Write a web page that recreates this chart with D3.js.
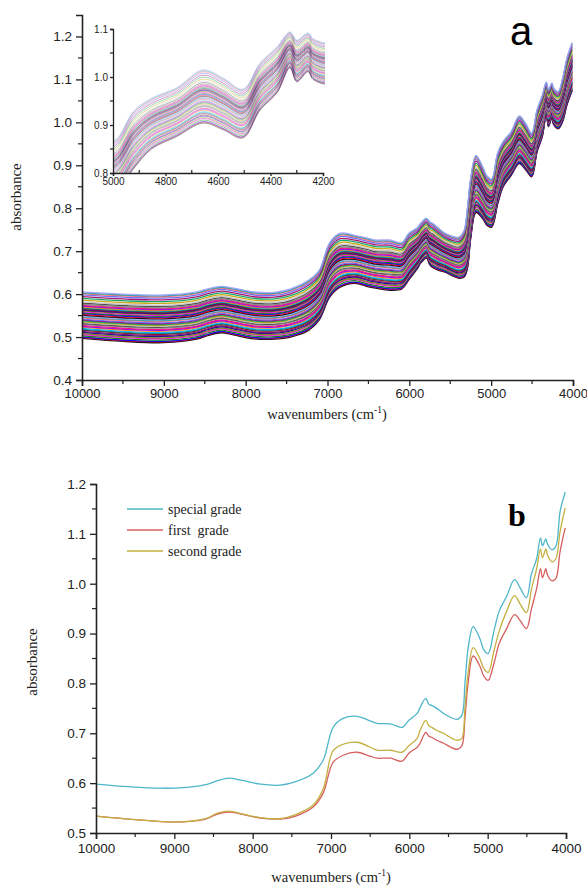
<!DOCTYPE html>
<html><head><meta charset="utf-8">
<script src="https://cdn.jsdelivr.net/npm/d3@7"></script>
<style>body{margin:0;background:#fff}</style></head>
<body>
<svg id="c" width="587" height="887"></svg>
<script>
// ---------- DATA ----------
const wavenumbers = [10000,9500,9000,8600,8450,8300,8150,7900,7650,7450,7228,7100,6973,6845,6667,6500,6411,6240,6092,6006,5900,5862,5790,5750,5715,5650,5565,5394,5330,5290,5250,5185,5100,5050,4994,4920,4853,4757,4657,4580,4505,4440,4375,4326,4300,4257,4238,4180,4130,4074,4010];
// panel a: envelope of the bundle of sample spectra (top and bottom curves)
const upperA = [0.605,0.600,0.598,0.605,0.613,0.618,0.614,0.605,0.604,0.612,0.633,0.656,0.720,0.742,0.737,0.730,0.726,0.726,0.720,0.742,0.755,0.765,0.777,0.768,0.765,0.755,0.742,0.733,0.749,0.800,0.870,0.923,0.895,0.875,0.868,0.930,0.956,0.978,1.015,0.998,0.975,1.029,1.063,1.094,1.077,1.092,1.080,1.072,1.100,1.150,1.186];
const lowerA = [0.497,0.490,0.487,0.495,0.504,0.510,0.505,0.496,0.495,0.500,0.516,0.540,0.593,0.616,0.625,0.617,0.614,0.609,0.612,0.633,0.660,0.672,0.684,0.668,0.662,0.656,0.651,0.637,0.640,0.660,0.730,0.790,0.775,0.760,0.756,0.810,0.850,0.876,0.904,0.890,0.873,0.931,0.967,1.019,0.990,1.011,0.995,0.985,1.000,1.040,1.074];
// absorbance of each sample at 10000 cm-1 (its place in the bundle)
const sampleLevels = [0.497,0.499,0.500,0.503,0.506,0.508,0.511,0.513,0.516,0.518,0.520,0.523,0.525,0.527,0.530,0.532,0.534,0.536,0.538,0.540,0.542,0.545,0.547,0.549,0.551,0.553,0.555,0.557,0.559,0.561,0.563,0.564,0.566,0.567,0.569,0.570,0.572,0.574,0.576,0.579,0.582,0.586,0.590,0.594,0.598,0.601,0.603,0.605];
const sampleColors = ["#000000","#ff0000","#0000ff","#008000","#ff00ff","#808000","#000080","#800080","#800000","#008080","#00b0ff","#ff8000","#8000ff","#ff0080","#808080","#404040","#c0c0c0","#c8a000","#00a060","#a00060","#6060ff","#ff6060","#20a0a0","#a0a0ff"];
const specialGrade = [0.598,0.592,0.590,0.597,0.605,0.610,0.606,0.598,0.596,0.603,0.620,0.646,0.712,0.730,0.734,0.725,0.720,0.719,0.712,0.726,0.740,0.752,0.770,0.758,0.756,0.750,0.740,0.728,0.736,0.800,0.870,0.914,0.890,0.868,0.860,0.905,0.945,0.975,1.008,0.990,0.972,1.020,1.050,1.092,1.076,1.090,1.080,1.068,1.075,1.146,1.184];
const firstGrade   = [0.534,0.527,0.522,0.528,0.538,0.542,0.538,0.530,0.528,0.534,0.552,0.580,0.642,0.656,0.662,0.654,0.650,0.650,0.644,0.660,0.672,0.680,0.702,0.694,0.692,0.686,0.680,0.668,0.675,0.730,0.800,0.855,0.835,0.815,0.806,0.840,0.880,0.910,0.938,0.925,0.910,0.950,0.990,1.030,1.012,1.030,1.018,1.006,1.010,1.066,1.112];
const secondGrade  = [0.534,0.527,0.522,0.529,0.540,0.544,0.539,0.531,0.529,0.537,0.556,0.588,0.665,0.678,0.682,0.672,0.666,0.666,0.662,0.675,0.690,0.706,0.726,0.715,0.712,0.706,0.700,0.686,0.690,0.750,0.820,0.872,0.850,0.830,0.822,0.865,0.905,0.945,0.976,0.958,0.942,0.990,1.030,1.070,1.052,1.070,1.058,1.044,1.050,1.106,1.152];
const gradeNames  = ["special grade","first  grade","second grade"];
const gradeColors = ["#4db6c8","#d65f5f","#c4b040"];
const xTicks  = [10000,9000,8000,7000,6000,5000,4000];
const yTicksA = [0.4,0.5,0.6,0.7,0.8,0.9,1.0,1.1,1.2];
const yTicksB = [0.5,0.6,0.7,0.8,0.9,1.0,1.1,1.2];
const insetXTicks = [5000,4800,4600,4400,4200];
const insetYTicks = [0.8,0.9,1.0,1.1];

// ---------- DRAW ----------
const svg = d3.select("#c");
const axisCol = "#222";
const sans = "Liberation Sans, Arial, sans-serif";
const serif = "Liberation Serif, Times New Roman, serif";

const samples = sampleLevels.map(lv => {
  const t = (lv - lowerA[0]) / (upperA[0] - lowerA[0]);
  return wavenumbers.map((w, k) => ({w, v: lowerA[k] + t * (upperA[k] - lowerA[k])}));
});

function styleAxis(g, fs){
  g.selectAll("path.domain").attr("stroke", axisCol).attr("stroke-width", 1.6);
  g.selectAll(".tick line").attr("stroke", axisCol).attr("stroke-width", 1.3);
  g.selectAll(".tick text").attr("font-family", sans).attr("font-size", fs).attr("fill", "#222");
}
function minor(g, scale, vals, orient, len){
  vals.forEach(v => {
    const p = scale(v);
    if (orient === "x") g.append("line").attr("x1", p).attr("x2", p).attr("y1", 0).attr("y2", len).attr("stroke", axisCol).attr("stroke-width", 1.2);
    else g.append("line").attr("y1", p).attr("y2", p).attr("x1", 0).attr("x2", -len).attr("stroke", axisCol).attr("stroke-width", 1.2);
  });
}
function xTitle(x, y){
  const t = svg.append("text").attr("x", x).attr("y", y).attr("text-anchor", "middle")
    .attr("font-family", serif).attr("font-size", 14.5).attr("fill", "#222");
  t.append("tspan").text("wavenumbers (cm");
  t.append("tspan").attr("dy", -6).attr("font-size", 9.5).text("-1");
  t.append("tspan").attr("dy", 6).text(")");
}
function yTitle(x, y){
  svg.append("text").attr("transform", `translate(${x},${y}) rotate(-90)`).attr("text-anchor", "middle")
    .attr("font-family", serif).attr("font-size", 15).attr("fill", "#222").text("absorbance");
}

// ===== Panel a =====
const xa = d3.scaleLinear().domain([10000, 4000]).range([82, 573]);
const ya = d3.scaleLinear().domain([0.4, 1.25]).range([380, 15]);
const lineA = d3.line().x(d => xa(d.w)).y(d => ya(d.v)).curve(d3.curveCatmullRom.alpha(0.5));
const gA = svg.append("g");
samples.forEach((s, i) => {
  gA.append("path").attr("d", lineA(s)).attr("fill", "none")
    .attr("stroke", sampleColors[i % sampleColors.length]).attr("stroke-width", 1.3).attr("stroke-opacity", 0.9);
});
const axA = svg.append("g").attr("transform", "translate(0,380)")
  .call(d3.axisBottom(xa).tickValues(xTicks).tickFormat(d3.format("d")).tickSize(6).tickPadding(3));
styleAxis(axA, 13);
minor(axA, xa, [9500,8500,7500,6500,5500,4500], "x", 4);
const ayA = svg.append("g").attr("transform", "translate(82,0)")
  .call(d3.axisLeft(ya).tickValues(yTicksA).tickFormat(d3.format(".1f")).tickSize(6).tickPadding(4));
styleAxis(ayA, 13.5);
minor(ayA, ya, [0.45,0.55,0.65,0.75,0.85,0.95,1.05,1.15], "y", 4);
xTitle(327, 419);
yTitle(21, 197);
svg.append("text").attr("x", 521).attr("y", 45).attr("text-anchor", "middle")
  .attr("font-family", sans).attr("font-size", 40).attr("fill", "#000").text("a");

// inset
const xi = d3.scaleLinear().domain([5000, 4200]).range([113, 323]);
const yi = d3.scaleLinear().domain([0.8, 1.1]).range([173, 29]);
svg.append("clipPath").attr("id", "clipI").append("rect").attr("x", 113).attr("y", 22).attr("width", 212).attr("height", 151);
const lineI = d3.line().x(d => xi(d.w)).y(d => yi(d.v)).curve(d3.curveCatmullRom.alpha(0.5));
const gI = svg.append("g").attr("clip-path", "url(#clipI)");
samples.forEach((s, i) => {
  gI.append("path").attr("d", lineI(s.filter(d => d.w <= 5100 && d.w >= 4130))).attr("fill", "none")
    .attr("stroke", sampleColors[i % sampleColors.length]).attr("stroke-width", 0.9).attr("stroke-opacity", 0.45);
});
const axI = svg.append("g").attr("transform", "translate(0,173)")
  .call(d3.axisBottom(xi).tickValues(insetXTicks).tickFormat(d3.format("d")).tickSize(3).tickPadding(2));
styleAxis(axI, 10);
axI.selectAll("path.domain").attr("stroke-width", 1.3);
minor(axI, xi, [4900,4700,4500,4300], "x", -3);
const ayI = svg.append("g").attr("transform", "translate(113,0)")
  .call(d3.axisLeft(yi).tickValues(insetYTicks).tickFormat(d3.format(".1f")).tickSize(3).tickPadding(2));
styleAxis(ayI, 10);
ayI.selectAll("path.domain").attr("stroke-width", 1.3);
minor(ayI, yi, [0.85,0.95,1.05], "y", 3);

// ===== Panel b =====
const xb = d3.scaleLinear().domain([10000, 4000]).range([96, 566]);
const yb = d3.scaleLinear().domain([0.5, 1.2]).range([833, 484]);
const lineB = d3.line().x(d => xb(d.w)).y(d => yb(d.v)).curve(d3.curveCatmullRom.alpha(0.5));
const grades = [specialGrade, firstGrade, secondGrade];
const drawOrder = [1, 2, 0];
drawOrder.forEach(gi => {
  svg.append("path").attr("d", lineB(wavenumbers.map((w, k) => ({w, v: grades[gi][k]}))))
    .attr("fill", "none").attr("stroke", gradeColors[gi]).attr("stroke-width", 1.3);
});
const axB = svg.append("g").attr("transform", "translate(0,833)")
  .call(d3.axisBottom(xb).tickValues(xTicks).tickFormat(d3.format("d")).tickSize(6).tickPadding(4));
styleAxis(axB, 13.5);
minor(axB, xb, [9500,8500,7500,6500,5500,4500], "x", 4);
const ayB = svg.append("g").attr("transform", "translate(96,0)")
  .call(d3.axisLeft(yb).tickValues(yTicksB).tickFormat(d3.format(".1f")).tickSize(6).tickPadding(4));
styleAxis(ayB, 13.5);
minor(ayB, yb, [0.55,0.65,0.75,0.85,0.95,1.05,1.15], "y", 4);
xTitle(331, 882);
yTitle(37, 662);
svg.append("text").attr("x", 517).attr("y", 526).attr("text-anchor", "middle")
  .attr("font-family", serif).attr("font-weight", "bold").attr("font-size", 32).attr("fill", "#000").text("b");

// legend
const lg = svg.append("g");
gradeNames.forEach((n, i) => {
  const y = 509 + i * 21;
  lg.append("line").attr("x1", 127).attr("x2", 163).attr("y1", y).attr("y2", y).attr("stroke", gradeColors[i]).attr("stroke-width", 1.4);
  lg.append("text").attr("x", 168).attr("y", y + 4.5).attr("font-family", serif).attr("font-size", 14).attr("fill", "#222")
    .attr("xml:space", "preserve").style("white-space", "pre").text(n);
});
</script>
</body></html>
